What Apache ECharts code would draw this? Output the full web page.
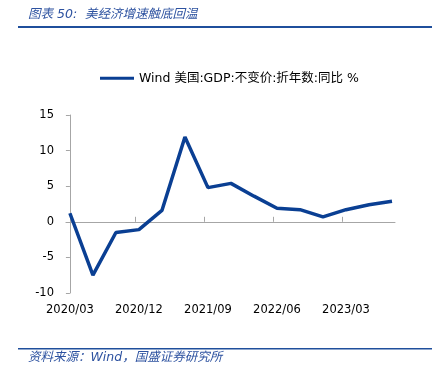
<!DOCTYPE html>
<html><head><meta charset="utf-8">
<script src="https://cdn.jsdelivr.net/npm/echarts@6/dist/echarts.min.js"></script>
<style>html,body{margin:0;padding:0;background:#fff}#c{width:432px;height:381px}</style>
</head><body><div id="c"></div>
<script>
var quarters = ['2020/03','2020/06','2020/09','2020/12','2021/03','2021/06','2021/09','2021/12','2022/03','2022/06','2022/09','2022/12','2023/03','2023/06','2023/09'];
var gdpYoY = [1.2, -7.5, -1.5, -1.1, 1.6, 11.9, 4.8, 5.4, 3.6, 1.9, 1.7, 0.7, 1.7, 2.4, 2.9];
var labelIdx = [0, 3, 6, 9, 12];
var yTicks = [-10, -5, 0, 5, 10, 15];
var seriesName = 'Wind 美国:GDP:不变价:折年数:同比 %';
var titleText = '图表 50:  美经济增速触底回温';
var sourceText = '资料来源：Wind，国盛证券研究所';

var FONT = '"DejaVu Sans", "Noto Sans CJK SC", sans-serif';
var chart = echarts.init(document.getElementById('c'));
var data = gdpYoY.map(function(v,i){return [i,v];});
chart.setOption({
  animation:false,
  grid:{left:66,right:37,top:115,bottom:88},
  legend:{top:67,left:95,itemWidth:34,itemHeight:3,itemGap:4,icon:'rect',
    textStyle:{fontFamily:FONT,fontSize:12.5,color:'#000'},data:[seriesName]},
  xAxis:[{
    type:'value',min:-0.17,max:14.13,
    axisLine:{onZero:true,lineStyle:{color:'#a6a6a6',width:1}},
    axisTick:{show:true,inside:true,length:5,lineStyle:{color:'#a6a6a6'},customValues:labelIdx.slice(1).map(function(i){return i-0.17;})},
    axisLabel:{show:false},splitLine:{show:false}
  },{
    type:'value',min:-0.17,max:14.13,position:'bottom',
    axisLine:{show:false,onZero:false},axisTick:{show:false},splitLine:{show:false},
    axisLabel:{show:true,customValues:labelIdx,margin:11,fontFamily:FONT,fontSize:11.5,color:'#000',
      formatter:function(v){return quarters[Math.round(v)]||'';}}
  }],
  yAxis:{type:'value',min:yTicks[0],max:yTicks[yTicks.length-1],interval:5,
    axisLine:{show:true,lineStyle:{color:'#a6a6a6'}},
    axisTick:{show:true,length:4,lineStyle:{color:'#a6a6a6'}},
    splitLine:{show:false},
    axisLabel:{margin:12,fontFamily:FONT,fontSize:11.5,color:'#000'}},
  series:[{name:seriesName,type:'line',xAxisIndex:0,data:data,showSymbol:false,symbol:'none',
    lineStyle:{color:'#0a3f93',width:3.5},itemStyle:{color:'#0a3f93'}}],
  graphic:[
    {type:'text',left:28,top:8,style:{text:titleText,fill:'#2d52a0',font:'italic 12.5px '+FONT}},
    {type:'rect',shape:{x:18,y:26,width:414,height:2},style:{fill:'#1f4f9c'}},
    {type:'rect',shape:{x:18,y:348,width:414,height:1.5},style:{fill:'#1f4f9c'}},
    {type:'text',left:28,top:351,style:{text:sourceText,fill:'#2d52a0',font:'italic 12.5px '+FONT}}
  ]
});
</script></body></html>
